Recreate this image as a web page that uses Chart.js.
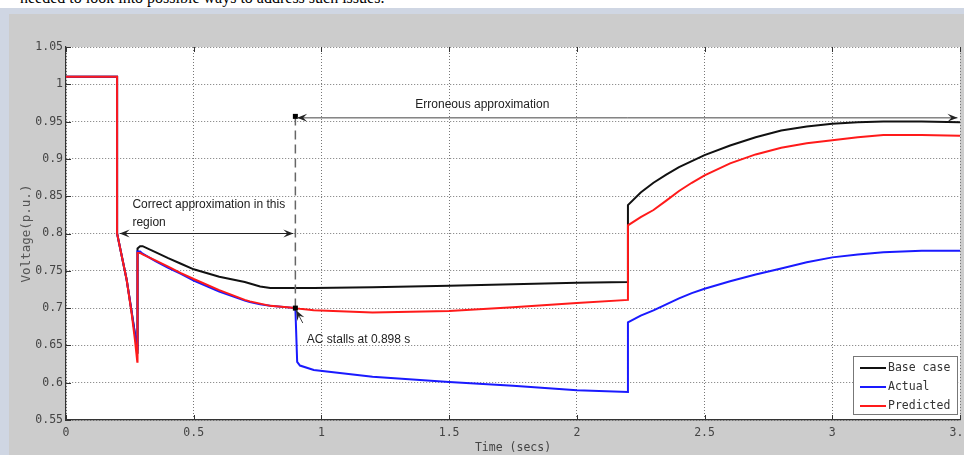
<!DOCTYPE html>
<html>
<head>
<meta charset="utf-8">
<script src="https://cdn.jsdelivr.net/npm/chart.js@4"></script>
<style>
  html, body { margin: 0; padding: 0; width: 964px; height: 455px; overflow: hidden; background: #fff; }
  .caption { position: absolute; top: -11px; left: 20px; font: 16px "Liberation Serif", serif; color: #000; white-space: nowrap; }
  .frame { position: absolute; top: 8px; left: 0; width: 964px; height: 447px; background: #cfd6e3; }
  .panel { position: absolute; top: 14px; left: 9px; width: 955px; height: 441px; background: #cccccc; }
  #chart { position: absolute; top: 0; left: 0; }
</style>
</head>
<body>
<div class="caption">needed to look into possible ways to address such issues.</div>
<div class="frame"></div>
<div class="panel"></div>
<canvas id="chart" width="990" height="455"></canvas>
<script>
// time axis (secs), shared by the three curves
const timeS = [0, 0.2, 0.2, 0.2375, 0.257, 0.27, 0.279, 0.28, 0.29, 0.3,
  0.35, 0.4, 0.45, 0.5, 0.6, 0.7, 0.72, 0.76, 0.8,
  0.898, 0.905, 0.916, 0.97, 1.2, 1.5, 1.75, 2.0, 2.2,
  2.2, 2.25, 2.3, 2.35, 2.4, 2.45, 2.5, 2.6, 2.7, 2.8,
  2.9, 3.0, 3.1, 3.2, 3.35, 3.5];

// voltage (p.u.)
const baseCase = [1.01, 1.01, 0.8, 0.738, 0.695, 0.665, 0.64, 0.78, 0.783, 0.783,
  0.775, 0.767, 0.7595, 0.752, 0.742, 0.735, 0.733, 0.729, 0.727,
  0.727, 0.727, 0.727, 0.727, 0.728, 0.730, 0.732, 0.734, 0.735,
  0.838, 0.855, 0.868, 0.879, 0.889, 0.897, 0.905, 0.918, 0.929, 0.938,
  0.9435, 0.947, 0.949, 0.950, 0.950, 0.949];
const actual = [1.01, 1.01, 0.8, 0.738, 0.695, 0.665, 0.645, 0.776, 0.776, 0.773,
  0.763, 0.754, 0.746, 0.737, 0.722, 0.710, 0.708, 0.705, 0.703,
  0.700, 0.628, 0.623, 0.617, 0.608, 0.601, 0.596, 0.590, 0.5875,
  0.681, 0.690, 0.697, 0.705, 0.713, 0.720, 0.726, 0.736, 0.745, 0.753,
  0.7615, 0.768, 0.772, 0.775, 0.777, 0.777];
const predicted = [1.01, 1.01, 0.8, 0.738, 0.693, 0.657, 0.628, 0.774, 0.774, 0.772,
  0.764, 0.7555, 0.747, 0.739, 0.724, 0.711, 0.709, 0.706, 0.703,
  0.700, 0.6995, 0.699, 0.697, 0.694, 0.696, 0.701, 0.707, 0.711,
  0.811, 0.822, 0.8315, 0.844, 0.857, 0.868, 0.878, 0.894, 0.906, 0.915,
  0.921, 0.925, 0.929, 0.932, 0.932, 0.931];

const seriesNames = ["Base case", "Actual", "Predicted"];
const xTicks = [0, 0.5, 1, 1.5, 2, 2.5, 3, 3.5];
const xTickLabels = ["0", "0.5", "1", "1.5", "2", "2.5", "3", "3.5"];
const yTicks = [0.55, 0.6, 0.65, 0.7, 0.75, 0.8, 0.85, 0.9, 0.95, 1, 1.05];
const yTickLabels = ["0.55", "0.6", "0.65", "0.7", "0.75", "0.8", "0.85", "0.9", "0.95", "1", "1.05"];

// annotation anchors, in data units
const stallTime = 0.898, stallVolt = 0.700;
const markTopVolt = 0.957;
const correctSpan = [0.21, 0.89], correctVolt = 0.8;
const errSpan = [0.905, 3.49], errVolt = 0.955;

const mono = '"DejaVu Sans Mono", "Liberation Mono", monospace';
const sans = 'Arial, "Liberation Sans", sans-serif';

function pts(vals) {
  return timeS.map(function (t, i) { return { x: t, y: vals[i] }; });
}

function head(ctx, x, y, ang) {
  ctx.save();
  ctx.translate(x, y);
  ctx.rotate(ang);
  ctx.beginPath();
  ctx.moveTo(0, 0);
  ctx.lineTo(-10, -4);
  ctx.lineTo(-6, 0);
  ctx.lineTo(-10, 4);
  ctx.closePath();
  ctx.fill();
  ctx.restore();
}

const plotBg = {
  id: "plotBg",
  beforeDraw(chart) {
    const a = chart.chartArea;
    chart.ctx.save();
    chart.ctx.fillStyle = "#ffffff";
    chart.ctx.fillRect(a.left, a.top, a.right - a.left, a.bottom - a.top);
    chart.ctx.restore();
  }
};

const notes = {
  id: "notes",
  afterDatasetsDraw(chart) {
    const ctx = chart.ctx;
    const x = chart.scales.x, y = chart.scales.y;
    const a = chart.chartArea;
    ctx.save();

    // inside tick marks (matlab style)
    ctx.strokeStyle = "#333";
    ctx.lineWidth = 1;
    ctx.beginPath();
    x.ticks.forEach(function (t) {
      const px = Math.round(x.getPixelForValue(t.value)) + 0.5;
      ctx.moveTo(px, a.bottom); ctx.lineTo(px, a.bottom - 5);
      ctx.moveTo(px, a.top); ctx.lineTo(px, a.top + 5);
    });
    y.ticks.forEach(function (t) {
      const py = Math.round(y.getPixelForValue(t.value)) + 0.5;
      ctx.moveTo(a.left, py); ctx.lineTo(a.left + 5, py);
    });
    ctx.stroke();

    // dashed marker line at the stall time
    const sx = x.getPixelForValue(stallTime);
    ctx.strokeStyle = "#666";
    ctx.lineWidth = 1.5;
    ctx.setLineDash([9, 5]);
    ctx.beginPath();
    ctx.moveTo(sx, y.getPixelForValue(markTopVolt));
    ctx.lineTo(sx, y.getPixelForValue(stallVolt));
    ctx.stroke();
    ctx.setLineDash([]);

    ctx.fillStyle = "#000";
    ctx.fillRect(sx - 2.5, y.getPixelForValue(markTopVolt) - 2.5, 5, 5);
    ctx.fillRect(sx - 2.5, y.getPixelForValue(stallVolt) - 2.5, 5, 5);

    // correct approximation arrow
    ctx.strokeStyle = "#222";
    ctx.fillStyle = "#222";
    ctx.lineWidth = 1;
    let py = y.getPixelForValue(correctVolt);
    let x1 = x.getPixelForValue(correctSpan[0]), x2 = x.getPixelForValue(correctSpan[1]);
    ctx.beginPath(); ctx.moveTo(x1, py); ctx.lineTo(x2, py); ctx.stroke();
    head(ctx, x1, py, Math.PI);
    head(ctx, x2, py, 0);

    // erroneous approximation arrow
    py = y.getPixelForValue(errVolt);
    x1 = x.getPixelForValue(errSpan[0]); x2 = x.getPixelForValue(errSpan[1]);
    ctx.strokeStyle = "#444";
    ctx.beginPath(); ctx.moveTo(x1, py); ctx.lineTo(x2, py); ctx.stroke();
    ctx.fillStyle = "#222";
    head(ctx, x1, py, Math.PI);
    head(ctx, x2, py, 0);

    // stall pointer
    const tx = x.getPixelForValue(0.927), ty = y.getPixelForValue(0.680);
    const hx = x.getPixelForValue(0.901), hy = y.getPixelForValue(0.697);
    ctx.beginPath(); ctx.moveTo(tx, ty); ctx.lineTo(hx, hy); ctx.stroke();
    head(ctx, hx, hy, Math.atan2(hy - ty, hx - tx));

    // texts
    ctx.fillStyle = "#222";
    ctx.font = "12px " + sans;
    ctx.textAlign = "left";
    ctx.textBaseline = "alphabetic";
    ctx.fillText("Correct approximation in this", x.getPixelForValue(0.26), y.getPixelForValue(0.834));
    ctx.fillText("region", x.getPixelForValue(0.26), y.getPixelForValue(0.8095));
    ctx.fillText("AC stalls at 0.898 s", x.getPixelForValue(0.943), y.getPixelForValue(0.653));
    ctx.textAlign = "center";
    ctx.fillText("Erroneous approximation", x.getPixelForValue(1.63), y.getPixelForValue(0.968));
    ctx.restore();
  },
  afterDraw(chart) {
    // legend box inside the plot, lower right
    const ctx = chart.ctx;
    const a = chart.chartArea;
    const w = 104, h = 58;
    const left = a.right - w - 3, top = a.bottom - h - 6;
    ctx.save();
    ctx.fillStyle = "#fff";
    ctx.fillRect(left, top, w, h);
    ctx.strokeStyle = "#777";
    ctx.lineWidth = 1;
    ctx.strokeRect(left + 0.5, top + 0.5, w, h);
    ctx.font = "11.5px " + mono;
    ctx.textBaseline = "middle";
    ctx.textAlign = "left";
    chart.data.datasets.forEach(function (ds, i) {
      const ry = top + 12 + i * 19;
      ctx.strokeStyle = ds.borderColor;
      ctx.lineWidth = 2;
      ctx.beginPath(); ctx.moveTo(left + 7, ry); ctx.lineTo(left + 33, ry); ctx.stroke();
      ctx.fillStyle = "#333";
      ctx.fillText(ds.label, left + 35, ry);
    });
    ctx.restore();
  }
};

new Chart(document.getElementById("chart"), {
  type: "line",
  data: {
    datasets: [
      { label: seriesNames[0], data: pts(baseCase), borderColor: "#111111", order: 2 },
      { label: seriesNames[1], data: pts(actual), borderColor: "#1a1aff", order: 1 },
      { label: seriesNames[2], data: pts(predicted), borderColor: "#ff1a1a", order: 0 }
    ]
  },
  options: {
    responsive: false,
    animation: false,
    devicePixelRatio: 1,
    layout: { padding: { top: 47, right: 30, bottom: 0, left: 0 } },
    elements: {
      point: { radius: 0 },
      line: { borderWidth: 2, tension: 0 }
    },
    plugins: { legend: { display: false }, tooltip: { enabled: false } },
    scales: {
      x: {
        type: "linear",
        min: 0,
        max: 3.5,
        afterBuildTicks: function (s) { s.ticks = xTicks.map(function (v) { return { value: v }; }); },
        afterFit: function (s) { s.height = 35; },
        ticks: {
          autoSkip: false,
          maxRotation: 0,
          padding: 6,
          color: "#444",
          font: { family: mono, size: 11.5 },
          callback: function (v) { return xTickLabels[xTicks.indexOf(v)]; }
        },
        grid: { color: "#777", drawTicks: false },
        border: { color: "#333", width: 1.2, dash: [1, 2] },
        title: { display: true, text: "Time (secs)", color: "#444", font: { family: mono, size: 11.5 }, padding: { top: 0, bottom: 0 } }
      },
      y: {
        min: 0.55,
        max: 1.05,
        afterBuildTicks: function (s) { s.ticks = yTicks.map(function (v) { return { value: v }; }); },
        afterFit: function (s) { s.width = 66; },
        ticks: {
          padding: 3,
          color: "#444",
          font: { family: mono, size: 11.5 },
          callback: function (v) { return yTickLabels[yTicks.indexOf(v)]; }
        },
        grid: { color: "#777", drawTicks: false },
        border: { color: "#333", width: 1.2, dash: [1, 2] },
        title: { display: true, text: "Voltage(p.u.)", color: "#555", font: { family: mono, size: 12.5 }, padding: { top: 19, bottom: 0 } }
      }
    }
  },
  plugins: [plotBg, notes]
});
</script>
</body>
</html>
